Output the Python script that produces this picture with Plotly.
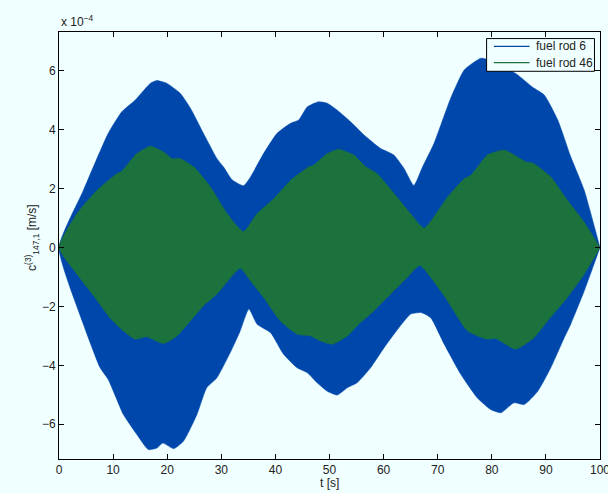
import plotly.graph_objects as go

# Envelope of the oscillating signals (values in units of 1e-4 m/s)
t_rod6_upper = [0, 4.5, 9.1, 11.6, 14.1, 16.9, 18.1, 19.9, 22.4, 24.3, 26.7, 29.2, 30.4, 32.0, 34.1,
                35.4, 37.8, 40.3, 42.8, 44.3, 45.9, 48.0, 49.6, 51.4, 53.9, 56.4, 59.4, 61.9, 63.8,
                65.6, 67.2, 69.3, 72.4, 74.9, 78.0, 80.4, 84.5, 87.5, 89.7, 92.2, 94.6, 97.1, 100]
v_rod6_upper = [0, 1.94, 3.88, 4.61, 5.01, 5.58, 5.67, 5.58, 5.24, 4.73, 3.88, 3.02, 2.74, 2.30, 2.10,
                2.40, 3.19, 3.88, 4.22, 4.33, 4.78, 4.95, 4.90, 4.67, 4.27, 3.82, 3.37, 3.14, 2.68,
                2.11, 2.74, 3.53, 5.07, 6.03, 6.43, 6.32, 5.90, 5.45, 5.18, 4.33, 3.08, 1.94, 0]
t_rod6_lower = [0, 4.5, 7.6, 9.1, 11.9, 14.4, 16.5, 18.1, 19.2, 21.2, 23.0, 25.5, 27.3, 29.2, 31.7,
                33.5, 35.1, 36.6, 39.1, 41.5, 44.0, 45.9, 47.7, 49.6, 51.4, 53.3, 55.1, 57.6, 60.1,
                62.5, 65.0, 67.0, 68.7, 71.2, 74.3, 77.3, 79.8, 81.7, 84.1, 86.0, 88.5, 90.9, 93.4,
                94.6, 97.1, 100]
v_rod6_lower = [0, -2.60, -4.08, -4.48, -5.67, -6.35, -6.86, -6.81, -6.64, -6.83, -6.58, -5.67, -4.76,
                -4.42, -3.55, -2.83, -2.09, -2.60, -2.89, -3.62, -4.08, -4.25, -4.59, -4.88, -5.01,
                -4.76, -4.59, -4.08, -3.40, -2.80, -2.26, -2.21, -2.38, -3.28, -4.31, -5.10, -5.50,
                -5.61, -5.27, -5.33, -4.88, -4.08, -3.06, -2.60, -1.47, 0]

t_rod46_upper = [0, 3.3, 7.0, 10.7, 11.6, 14.4, 16.9, 19.3, 20.9, 22.4, 24.9, 28.0, 31.1, 34.1, 36.6,
                 39.7, 42.8, 46.2, 47.1, 49.6, 51.7, 54.5, 56.7, 58.8, 62.5, 65.0, 67.5, 71.8, 74.9,
                 76.1, 79.2, 82.3, 86.3, 87.8, 90.9, 94.0, 97.1, 100]
v_rod46_upper = [0, 1.15, 1.94, 2.51, 2.59, 3.19, 3.44, 3.25, 3.02, 3.02, 2.74, 2.06, 1.15, 0.54, 1.15,
                 1.66, 2.28, 2.74, 2.80, 3.19, 3.34, 3.14, 2.74, 2.51, 1.71, 1.15, 0.66, 1.71, 2.34,
                 2.45, 3.14, 3.31, 2.91, 2.85, 2.40, 1.60, 0.86, 0]
t_rod46_lower = [0, 3.3, 6.4, 9.4, 11.9, 14.1, 16.2, 19.3, 21.8, 24.3, 26.7, 29.2, 33.5, 35.4, 37.8,
                 40.9, 44.0, 46.5, 48.3, 50.5, 53.3, 55.4, 58.2, 61.3, 64.4, 66.7, 71.2, 75.5, 79.2,
                 80.7, 84.4, 87.8, 90.6, 94.0, 97.1, 100]
v_rod46_lower = [0, -0.90, -1.64, -2.38, -2.83, -3.11, -3.03, -3.26, -3.00, -2.49, -1.98, -1.58, -0.70,
                 -1.13, -1.69, -2.49, -2.94, -3.00, -3.17, -3.28, -3.00, -2.60, -2.15, -1.58, -1.01,
                 -0.61, -1.64, -2.83, -3.11, -3.09, -3.45, -3.06, -2.43, -1.69, -0.90, 0]

x_ticks = [0, 10, 20, 30, 40, 50, 60, 70, 80, 90, 100]
y_ticks = [-6, -4, -2, 0, 2, 4, 6]
series_names = ["fuel rod 6", "fuel rod 46"]
series_colors = ["#0047AB", "#1C723C"]

series = [
    (series_names[0], series_colors[0], t_rod6_upper, v_rod6_upper, t_rod6_lower, v_rod6_lower),
    (series_names[1], series_colors[1], t_rod46_upper, v_rod46_upper, t_rod46_lower, v_rod46_lower),
]

BG = "#F0FFFF"
FONT = "Liberation Sans, Arial, sans-serif"
TXT = "#222222"

fig = go.Figure()
for name, color, tu, vu, tl, vl in series:
    fig.add_trace(go.Scatter(
        x=list(tu) + list(tl)[::-1], y=list(vu) + list(vl)[::-1],
        mode="lines", fill="toself", fillcolor=color, name=name,
        line=dict(color=color, width=0.5, shape="spline", smoothing=0.5),
        showlegend=False, hoverinfo="skip"))

axis_common = dict(showgrid=False, zeroline=False, showline=True, linecolor="black", linewidth=1,
                   mirror="ticks", ticks="inside", ticklen=5, tickcolor="black", tickwidth=1,
                   automargin=False, ticklabeloverflow="allow",
                   tickfont=dict(family=FONT, size=12, color=TXT))

fig.update_layout(
    width=608, height=493,
    paper_bgcolor=BG, plot_bgcolor=BG,
    margin=dict(l=59, r=7.5, t=31.7, b=34),
    font=dict(family=FONT, size=12, color=TXT),
    xaxis=dict(range=[0, 100], tickvals=x_ticks, **axis_common),
    yaxis=dict(range=[-7.18, 7.32], tickvals=y_ticks, **axis_common),
    showlegend=False,
)

# MATLAB-style legend box (inside top-right corner)
fig.add_shape(type="rect", xref="paper", yref="paper", x0=0.7904, x1=0.9898, y0=0.908, y1=0.9846,
              line=dict(color="black", width=1), fillcolor=BG, layer="above")
legend_rows_y = [0.9665, 0.9284]
for name, color, ly in zip(series_names, series_colors, legend_rows_y):
    fig.add_shape(type="line", xref="paper", yref="paper", x0=0.8039, x1=0.8698, y0=ly, y1=ly,
                  line=dict(color=color, width=1.3), layer="above")
    fig.add_annotation(text=name, xref="paper", yref="paper", x=0.8777, y=ly,
                       xanchor="left", yanchor="middle", showarrow=False,
                       font=dict(family=FONT, size=12, color=TXT))

fig.add_annotation(text="x 10<sup>−4</sup>", xref="paper", yref="paper", x=0, y=1,
                   xanchor="left", yanchor="bottom", yshift=1, showarrow=False,
                   font=dict(family=FONT, size=12, color=TXT))
fig.add_annotation(text="t [s]", xref="paper", yref="paper", x=0.5, y=-0.056,
                   xanchor="center", yanchor="middle", showarrow=False,
                   font=dict(family=FONT, size=12, color=TXT))
fig.add_annotation(text="c<sup>(3)</sup><sub>147,1</sub> [m/s]", xref="paper", yref="paper",
                   x=-0.05, y=0.52, xanchor="center", yanchor="middle", textangle=-90,
                   showarrow=False, font=dict(family=FONT, size=12, color=TXT))

fig.write_html("out.html", config={"displayModeBar": False},
               post_script="document.body.style.margin='0px';document.body.style.background='%s';" % BG)
